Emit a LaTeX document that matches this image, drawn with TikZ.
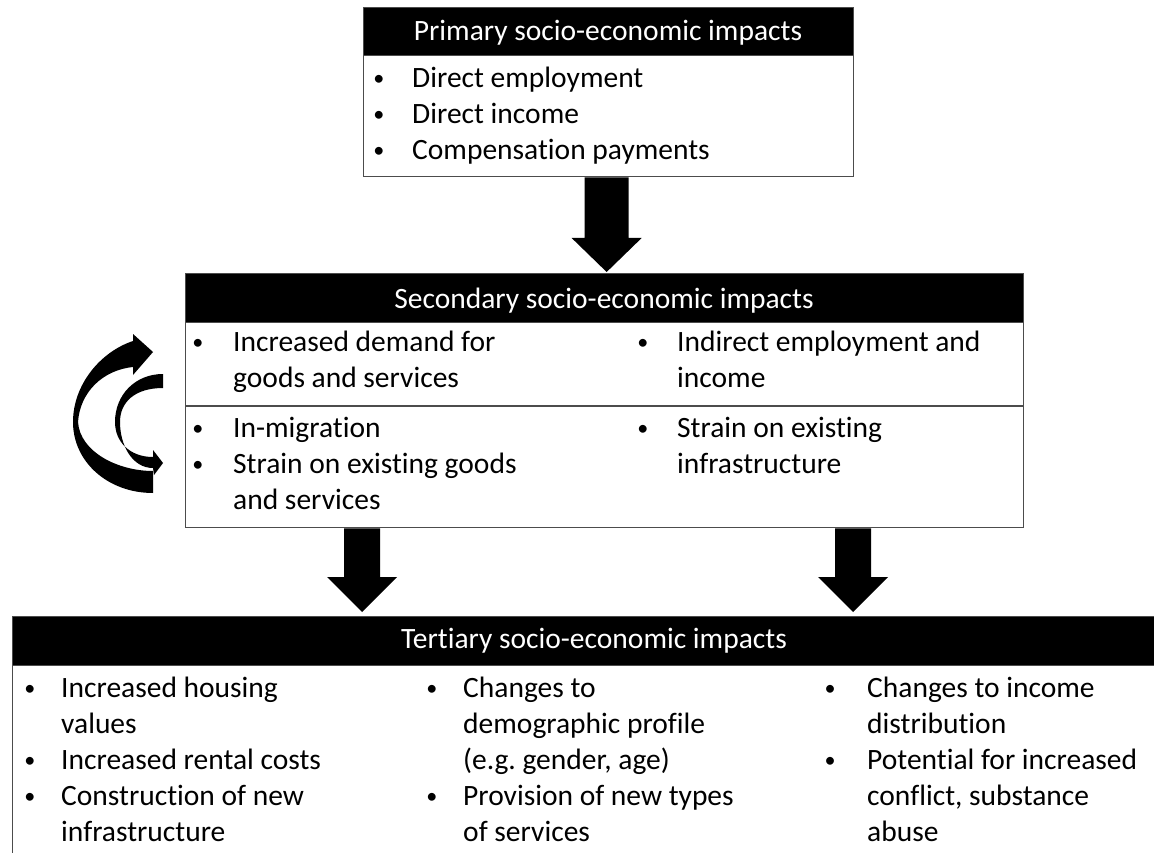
\documentclass[tikz,border=0pt]{standalone}
\usepackage{fontspec}
\setmainfont{Carlito}[Ligatures=NoCommon]
\usetikzlibrary{calc}
\frenchspacing
\newcommand\il[1]{\begin{tabular}[t]{@{}l@{}}#1\end{tabular}}
\newcommand\bdot{\raisebox{2pt}{\scalebox{0.75}{•}}}
\newcommand\blockarr[5]{%
  \fill[black] let \p1=(#1), \p2=(#2) in
    (\x1-#3pt,\y1) -- (\x1+#3pt,\y1) -- (\x1+#3pt,\y2+#5pt) -- (\x1+#4pt,\y2+#5pt)
    -- (\x1,\y2) -- (\x1-#4pt,\y2+#5pt) -- (\x1-#3pt,\y2+#5pt) -- cycle;}
\begin{document}
\begin{tikzpicture}[x=1pt,y=-1pt,
  boxst/.style={draw=black!70, line width=1.3pt, fill=white, inner sep=0pt, anchor=north west},
  hdr/.style={fill=black, draw=black!70, line width=1.3pt, inner sep=0pt, anchor=north west},
  htxt/.style={text=white, font=\fontsize{29.5}{36}\selectfont, inner sep=0pt, anchor=base},
  btxt/.style={font=\fontsize{29.5}{36}\selectfont, inner sep=0pt, anchor=base west},
  bul/.style={font=\fontsize{29.5}{36}\selectfont, inner sep=0pt, anchor=base},
  divline/.style={draw=black!70, line width=1.3pt}]
\useasboundingbox (0,0) rectangle (1154,853);
\clip (0,0) rectangle (1154,853);

% ---------- boxes ----------
\node[boxst, minimum width=490pt, minimum height=169pt] (prim) at (363,7) {};
\node[hdr, minimum width=490pt, minimum height=48pt] (primh) at (363,7) {};
\node[htxt] (primt) at (608,41) {Primary socio-economic impacts};

\node[boxst, minimum width=838pt, minimum height=254pt] (sec) at (185,273) {};
\node[hdr, minimum width=838pt, minimum height=49pt] (sech) at (185,273) {};
\node[htxt] (sect) at (604,308) {Secondary socio-economic impacts};
\coordinate (dl) at (185,406);
\coordinate (dr) at (1023,406);
\draw[divline] (dl) -- (dr);

\node[boxst, minimum width=1164pt, minimum height=260pt] (ter) at (12,616) {};
\node[hdr, minimum width=1164pt, minimum height=49pt] (terh) at (12,616) {};
\node[htxt] (tert) at (594,648) {Tertiary socio-economic impacts};

% ---------- primary items ----------
\node[bul] (pb1) at (379,88) {\bdot};
\node[btxt] (pt1) at (412,88) {Direct employment};
\node[bul] (pb2) at (379,124) {\bdot};
\node[btxt] (pt2) at (412,124) {Direct income};
\node[bul] (pb3) at (379,160) {\bdot};
\node[btxt] (pt3) at (412,160) {Compensation payments};

% ---------- secondary items ----------
\node[bul] (sb1) at (198,351) {\bdot};
\node[btxt] (st1) at (233,351) {\il{Increased demand for\\goods and services}};
\node[bul] (sb2) at (643,351) {\bdot};
\node[btxt] (st2) at (677,351) {\il{Indirect employment and\\income}};
\node[bul] (sb3) at (198,437) {\bdot};
\node[btxt] (st3) at (233,437) {In-migration};
\node[bul] (sb4) at (198,473) {\bdot};
\node[btxt] (st4) at (233,473) {\il{Strain on existing goods\\and services}};
\node[bul] (sb5) at (643,437) {\bdot};
\node[btxt] (st5) at (677,437) {\il{Strain on existing\\infrastructure}};

% ---------- tertiary items ----------
\node[bul] (tb1) at (30,697) {\bdot};
\node[btxt] (tt1) at (61,697) {\il{Increased housing\\values}};
\node[bul] (tb2) at (30,769) {\bdot};
\node[btxt] (tt2) at (61,769) {Increased rental costs};
\node[bul] (tb3) at (30,805) {\bdot};
\node[btxt] (tt3) at (61,805) {\il{Construction of new\\infrastructure}};

\node[bul] (tb4) at (432,697) {\bdot};
\node[btxt] (tt4) at (463,697) {\il{Changes to\\demographic profile\\(e.g. gender, age)}};
\node[bul] (tb5) at (432,805) {\bdot};
\node[btxt] (tt5) at (463,805) {\il{Provision of new types\\of services}};

\node[bul] (tb6) at (830,697) {\bdot};
\node[btxt] (tt6) at (867,697) {\il{Changes to income\\distribution}};
\node[bul] (tb7) at (830,769) {\bdot};
\node[btxt] (tt7) at (867,769) {\il{Potential for increased\\conflict, substance\\abuse}};

% ---------- block arrows ----------
\coordinate (a1s) at ($(prim.south)+(-2,0)$);
\coordinate (a1e) at ($(606,0 |- sec.north)+(0,-1)$);
\blockarr{a1s}{a1e}{22}{35}{34}
\coordinate (a2s) at (362,0 |- sec.south);
\coordinate (a2e) at ($(362,0 |- ter.north)+(0,-4)$);
\blockarr{a2s}{a2e}{18}{35}{35}
\coordinate (a3s) at (853,0 |- sec.south);
\coordinate (a3e) at ($(853,0 |- ter.north)+(0,-4)$);
\blockarr{a3s}{a3e}{18}{35}{35}

% ---------- curved arrows ----------
\fill[black] (133,341) .. controls (100,352) and (73,385) .. (73,422)
  .. controls (73,462) and (108,493) .. (153,493) -- (153,471)
  .. controls (118,471) and (80,452) .. (78,422)
  .. controls (80,392) and (103,370) .. (133,367)
  -- (133,375) -- (153,352) -- (133,334) -- cycle;
\fill[black] (163,374) .. controls (135,374) and (115,395) .. (115,422)
  .. controls (115,442) and (130,457) .. (153,457)
  -- (153,450) -- (163,463) -- (154,475) -- (153,468)
  .. controls (132,468) and (120,445) .. (120,422)
  .. controls (120,402) and (135,388) .. (163,388) -- cycle;
\end{tikzpicture}
\end{document}
